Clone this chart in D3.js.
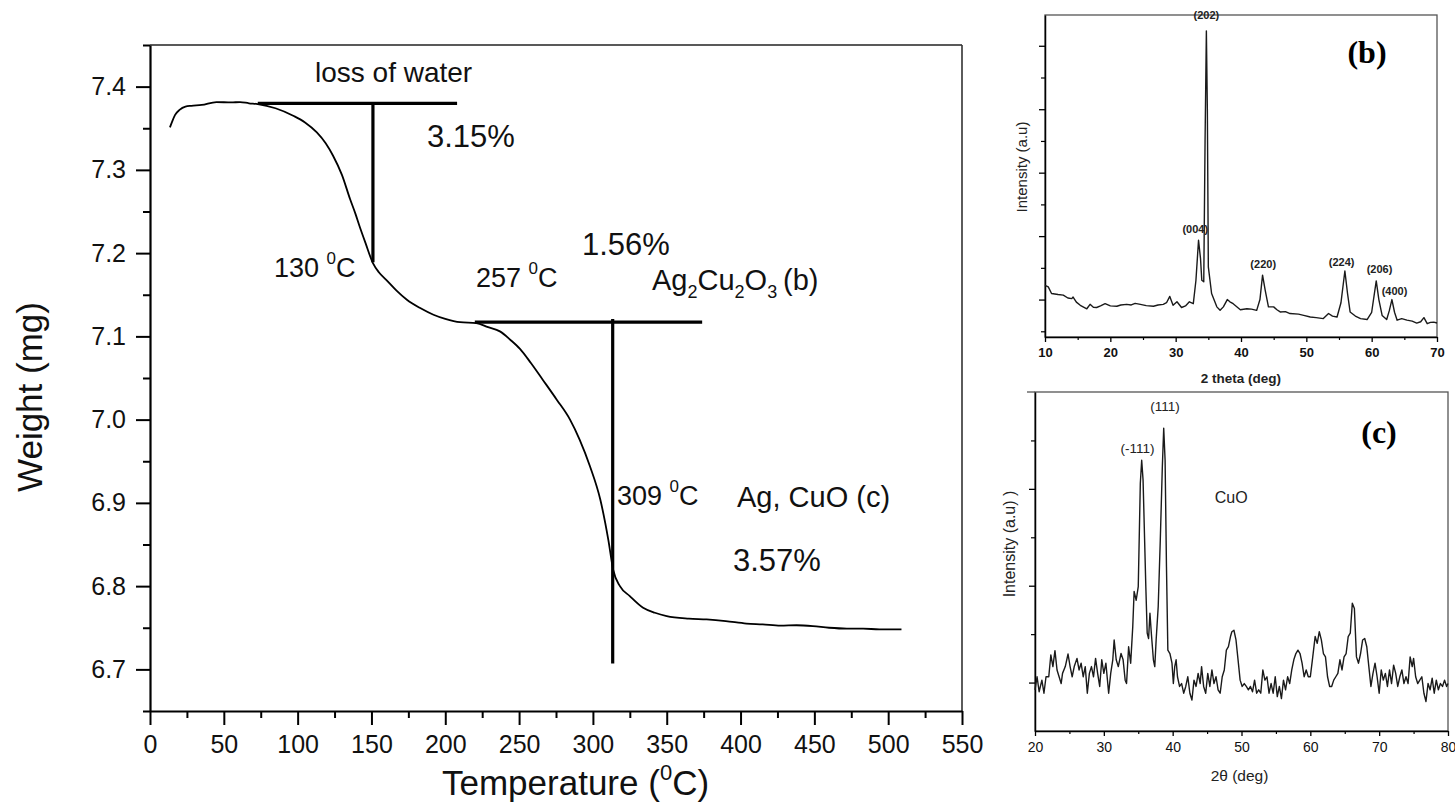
<!DOCTYPE html>
<html>
<head>
<meta charset="utf-8">
<script src="https://cdn.jsdelivr.net/npm/d3@7"></script>
<style>
  body { margin: 0; background: #fff; }
  svg { display: block; font-family: "Liberation Sans", Arial, sans-serif; }
  .axis path, .axis line { stroke: #000; }
  .axis text { fill: #111; }
</style>
</head>
<body>
<div id="chart"></div>
<script>
// ---- TGA curve (temperature degC, weight mg)
var tga = [[13.5,7.351],[15,7.358],[17,7.366],[20,7.372],[24,7.376],[28,7.377],[35,7.378],[45,7.3815],[55,7.381],[61,7.3815],[67,7.380],[73,7.379],[85,7.374],[97,7.365],[105,7.357],[113,7.345],[119,7.332],[124,7.317],[130,7.294],[135.5,7.265],[139,7.248],[142,7.232],[146,7.212],[151,7.188],[155,7.177],[160,7.168],[167,7.155],[174,7.144],[183,7.134],[192,7.126],[200,7.121],[210,7.117],[221,7.116],[229,7.111],[237,7.106],[244,7.096],[250.6,7.085],[258,7.068],[266,7.048],[275.5,7.024],[284.5,7.0],[291,6.976],[298,6.944],[305,6.904],[310.5,6.855],[313.8,6.819],[318.3,6.8],[325,6.788],[334,6.774],[342,6.768],[350,6.764],[365,6.761],[377,6.76],[390,6.758],[404,6.755],[415,6.754],[427,6.7525],[438,6.753],[449,6.752],[460,6.750],[472,6.749],[483,6.749],[494,6.748],[509,6.748]];

// tangent construction lines [T1, w1, T2, w2]
var tgaMarks = [[73,7.38,208,7.38],[151,7.38,151,7.189],[220,7.117,374,7.117],[313.4,7.121,313.4,6.707]];

var tempTicks = [0,50,100,150,200,250,300,350,400,450,500,550];
var tempMinor = [25,75,125,175,225,275,325,375,425,475,525];
var weightTicks = [6.7,6.8,6.9,7.0,7.1,7.2,7.3,7.4];
var weightMinor = [6.65,6.75,6.85,6.95,7.05,7.15,7.25,7.35,7.45];

// ---- XRD (b) Ag2Cu2O3, [2theta, intensity a.u.]
var xrdB = [[10,245],[10.5,240],[11,219],[12,216],[12.8,214],[13.5,205],[14.1,203],[14.3,208],[14.8,192],[15.4,182],[16.4,171],[16.9,185],[17.4,176],[17.9,175],[18.5,180],[19.2,187],[20,180],[21,179],[21.6,183],[22.5,185],[23.2,183],[23.8,188],[24.6,185],[25.5,181],[26.6,179],[27.3,183],[28.1,185],[28.6,190],[29.1,210],[29.6,182],[30.2,193],[30.9,175],[31.5,180],[32.1,193],[32.7,187],[33.1,260],[33.5,387],[33.8,330],[34.0,261],[34.3,256],[34.5,700],[34.7,1047],[34.85,800],[35.0,303],[35.5,219],[36.3,177],[36.8,166],[37.3,177],[37.9,200],[38.3,193],[38.8,187],[39.9,168],[40.9,171],[41.6,170],[42.4,166],[42.9,200],[43.3,277],[43.7,230],[44.2,177],[45.0,177],[45.5,168],[46.0,161],[46.8,162],[47.5,156],[48.8,154],[49.6,150],[50.6,145],[51.5,143],[52.6,140],[53.4,156],[54.0,148],[54.7,145],[55.3,190],[55.9,290],[56.3,220],[56.7,161],[57.5,148],[58.3,140],[59.3,137],[60.0,160],[60.7,259],[61.1,200],[61.6,150],[62.3,137],[62.7,165],[63.1,200],[63.5,160],[63.9,135],[64.6,140],[65.4,135],[66.2,132],[66.9,126],[67.5,130],[68.0,143],[68.5,124],[69.0,128],[69.5,129],[70,126]];
var peaksB = [["(202)",34.7,1085],["(004)",33.0,410],["(220)",43.4,300],["(224)",55.4,305],["(206)",61.2,285],["(400)",63.5,215]];
var bTicks = [10,20,30,40,50,60,70];
var bMinor = [15,25,35,45,55,65];
var bYTicks = [200,400,600,800,1000];
var bYMinor = [100,300,500,700,900];

// ---- XRD (c) CuO
var xrdC = [[20.0,85],[20.3,112],[20.6,81],[21.0,105],[21.3,78],[21.6,112],[22.0,112],[22.3,157],[22.6,133],[22.9,166],[23.2,126],[23.5,112],[23.8,98],[24.0,119],[24.4,133],[24.8,159],[25.1,133],[25.4,112],[25.7,133],[26.1,150],[26.4,126],[26.7,140],[27.0,112],[27.3,133],[27.6,78],[27.9,119],[28.2,133],[28.5,112],[28.8,150],[29.1,119],[29.4,92],[29.7,147],[30.0,119],[30.3,140],[30.7,78],[31.0,119],[31.3,147],[31.5,188],[31.8,147],[32.1,133],[32.5,160],[32.8,147],[33.1,105],[33.3,98],[33.6,174],[33.9,140],[34.2,215],[34.4,288],[34.7,270],[35.0,298],[35.3,511],[35.5,559],[35.7,518],[35.9,408],[36.1,298],[36.3,202],[36.5,191],[36.7,243],[36.9,202],[37.2,147],[37.4,133],[37.6,188],[37.9,257],[38.2,394],[38.5,546],[38.7,625],[38.9,559],[39.1,339],[39.3,167],[39.6,160],[39.9,140],[40.1,98],[40.3,133],[40.5,147],[40.7,112],[41.0,92],[41.3,98],[41.6,78],[41.9,92],[42.2,112],[42.5,78],[42.8,64],[43.1,105],[43.4,92],[43.7,119],[44.0,98],[44.2,133],[44.5,92],[44.8,78],[45.1,119],[45.4,92],[45.7,126],[46.0,98],[46.3,112],[46.6,85],[46.9,78],[47.2,112],[47.5,126],[47.8,167],[48.1,174],[48.4,195],[48.6,205],[48.9,208],[49.2,188],[49.5,147],[49.8,105],[50.1,92],[50.4,98],[50.7,92],[51.0,85],[51.3,92],[51.6,81],[51.9,105],[52.2,78],[52.5,85],[52.8,78],[53.1,126],[53.4,105],[53.7,112],[54.0,78],[54.3,98],[54.6,78],[54.9,112],[55.2,71],[55.5,92],[55.8,67],[56.1,105],[56.4,85],[56.7,112],[57.0,98],[57.3,126],[57.6,147],[57.9,160],[58.2,167],[58.5,160],[58.8,140],[59.1,112],[59.4,126],[59.7,112],[60.0,112],[60.3,147],[60.7,195],[61.0,181],[61.3,205],[61.6,188],[61.9,160],[62.2,153],[62.5,112],[62.8,92],[63.1,92],[63.4,105],[63.7,112],[64.0,119],[64.3,147],[64.6,126],[64.9,153],[65.2,160],[65.5,195],[65.8,202],[66.1,264],[66.4,253],[66.7,153],[67.0,140],[67.3,160],[67.6,188],[67.9,191],[68.2,174],[68.5,133],[68.8,92],[69.1,119],[69.4,140],[69.7,112],[70.0,78],[70.3,126],[70.6,105],[70.9,119],[71.2,92],[71.5,126],[71.8,98],[72.1,136],[72.4,119],[72.7,92],[73.0,112],[73.3,126],[73.6,98],[73.9,112],[74.2,98],[74.5,153],[74.8,133],[75.0,150],[75.3,112],[75.6,98],[75.9,105],[76.2,112],[76.5,78],[76.8,61],[77.1,98],[77.4,85],[77.7,109],[78.0,78],[78.3,105],[78.6,85],[78.9,98],[79.2,92],[79.5,105],[79.8,92],[80.0,98]];
var peaksC = [["(-111)",34.9,575],["(111)",38.9,660],["CuO",48.5,470]];
var cTicks = [20,30,40,50,60,70,80];
var cMinor = [25,35,45,55,65,75];
var cYTicks = [100,300,500];
var cYMinor = [200,400,600];

(function() {
  var svg = d3.select("#chart")
    .append("svg")
    .attr("width", 1455)
    .attr("height", 804);

  // ================= main TGA panel =================
  var width = 812, height = 666;
  var main = svg.append("g").attr("transform", "translate(150,45)");

  var xScale = d3.scaleLinear().domain([0, 550]).range([0, width]);
  var yScale = d3.scaleLinear().domain([6.65, 7.45]).range([height, 0]);

  // frame top / right
  main.append("line")
    .attr("x1", 0).attr("x2", width).attr("y1", 0).attr("y2", 0)
    .attr("stroke", "#222").attr("stroke-width", 1.6);
  main.append("line")
    .attr("x1", width).attr("x2", width).attr("y1", 0).attr("y2", height)
    .attr("stroke", "#333").attr("stroke-width", 1.6);

  var xAxis = d3.axisBottom(xScale).tickValues(tempTicks).tickSize(14).tickPadding(10).tickSizeOuter(0);
  main.append("g").attr("class", "axis").attr("transform", "translate(0," + height + ")")
    .call(xAxis)
    .call(function(g) {
      g.select(".domain").attr("stroke-width", 2.2);
      g.selectAll(".tick line").attr("stroke-width", 2);
      g.selectAll("text").style("font-size", "25px");
    });
  main.append("g").attr("class", "axis").attr("transform", "translate(0," + height + ")")
    .call(d3.axisBottom(xScale).tickValues(tempMinor).tickSize(7).tickFormat("").tickSizeOuter(0))
    .call(function(g) {
      g.select(".domain").remove();
      g.selectAll(".tick line").attr("stroke-width", 2);
    });

  var yAxis = d3.axisLeft(yScale).tickValues(weightTicks).tickSize(14).tickPadding(10).tickSizeOuter(0)
    .tickFormat(d3.format(".1f"));
  main.append("g").attr("class", "axis")
    .call(yAxis)
    .call(function(g) {
      g.select(".domain").attr("stroke-width", 2.2);
      g.selectAll(".tick line").attr("stroke-width", 2);
      g.selectAll("text").style("font-size", "25px");
    });
  main.append("g").attr("class", "axis")
    .call(d3.axisLeft(yScale).tickValues(weightMinor).tickSize(7).tickFormat("").tickSizeOuter(0))
    .call(function(g) {
      g.select(".domain").remove();
      g.selectAll(".tick line").attr("stroke-width", 2);
    });

  var line = d3.line()
    .x(function(d) { return xScale(d[0]); })
    .y(function(d) { return yScale(d[1]); })
    .curve(d3.curveMonotoneX);

  main.append("path")
    .datum(tga)
    .attr("d", line)
    .attr("fill", "none")
    .attr("stroke", "#000")
    .attr("stroke-width", 1.8);

  main.selectAll(".mark")
    .data(tgaMarks)
    .enter().append("line")
    .attr("class", "mark")
    .attr("x1", function(d) { return xScale(d[0]); })
    .attr("y1", function(d) { return yScale(d[1]); })
    .attr("x2", function(d) { return xScale(d[2]); })
    .attr("y2", function(d) { return yScale(d[3]); })
    .attr("stroke", "#000")
    .attr("stroke-width", 3.2);

  // annotations
  function label(x, y, size, parts) {
    var t = svg.append("text").attr("x", x).attr("y", y)
      .style("font-size", size + "px").attr("fill", "#111");
    parts.forEach(function(p) {
      var s = t.append("tspan").text(p[0]);
      if (p[1]) s.attr("dy", p[1]);
      if (p[2]) s.style("font-size", p[2] + "px");
    });
    return t;
  }
  label(315, 82, 28, [["loss of water"]]);
  label(427, 147, 31, [["3.15%"]]);
  label(274, 277, 27, [["130 "], ["0", -13, 17], ["C", 13]]);
  label(476, 287, 27, [["257 "], ["0", -13, 17], ["C", 13]]);
  label(582, 255, 31, [["1.56%"]]);
  label(652, 290, 29, [["Ag"], ["2", 8, 18], ["Cu", -8], ["2", 8, 18], ["O", -8], ["3", 8, 18], ["\u2009(b)", -8]]);
  label(617, 505, 27, [["309 "], ["0", -13, 17], ["C", 13]]);
  label(737, 507, 29, [["Ag, CuO (c)"]]);
  label(733, 571, 31, [["3.57%"]]);

  label(442, 795, 35, [["Temperature ("], ["0", -15, 22], ["C)", 15]]);
  svg.append("text")
    .attr("transform", "translate(42,397) rotate(-90)")
    .attr("text-anchor", "middle")
    .style("font-size", "35px")
    .attr("fill", "#111")
    .text("Weight (mg)");

  // ================= small XRD panel helper =================
  function xrdPanel(opt) {
    var g = svg.append("g").attr("transform", "translate(" + opt.left + "," + opt.top + ")");
    var xs = d3.scaleLinear().domain(opt.xDomain).range([0, opt.w]);
    var ys = d3.scaleLinear().domain(opt.yDomain).range([opt.h, 0]);

    g.append("rect")
      .attr("width", opt.w).attr("height", opt.h)
      .attr("fill", "none").attr("stroke", "#555").attr("stroke-width", 1.3);
    if (opt.topExtend) {
      g.append("line")
        .attr("x1", -opt.topExtend).attr("x2", 0).attr("y1", 0).attr("y2", 0)
        .attr("stroke", "#555").attr("stroke-width", 1.3);
    }

    g.append("g").attr("class", "axis").attr("transform", "translate(0," + opt.h + ")")
      .call(d3.axisBottom(xs).tickValues(opt.xTicks).tickSize(5).tickPadding(6).tickSizeOuter(0))
      .call(function(a) {
        a.select(".domain").attr("stroke-width", 1.5);
        a.selectAll(".tick line").attr("stroke-width", 1.3);
        a.selectAll("text").style("font-size", opt.tickFont + "px").style("font-weight", opt.bold ? "bold" : "normal");
      });
    g.append("g").attr("class", "axis").attr("transform", "translate(0," + opt.h + ")")
      .call(d3.axisBottom(xs).tickValues(opt.xMinor).tickSize(3).tickFormat("").tickSizeOuter(0))
      .call(function(a) { a.select(".domain").remove(); a.selectAll(".tick line").attr("stroke-width", 1.2); });
    g.append("g").attr("class", "axis")
      .call(d3.axisLeft(ys).tickValues(opt.yTicks).tickSize(6).tickFormat("").tickSizeOuter(0))
      .call(function(a) { a.select(".domain").attr("stroke-width", 1.5); a.selectAll(".tick line").attr("stroke-width", 1.3); });
    g.append("g").attr("class", "axis")
      .call(d3.axisLeft(ys).tickValues(opt.yMinor).tickSize(4).tickFormat("").tickSizeOuter(0))
      .call(function(a) { a.select(".domain").remove(); a.selectAll(".tick line").attr("stroke-width", 1.2); });

    g.append("path")
      .datum(opt.data)
      .attr("d", d3.line().x(function(d) { return xs(d[0]); }).y(function(d) { return ys(d[1]); }))
      .attr("fill", "none")
      .attr("stroke", "#1a1a1a")
      .attr("stroke-width", 1.4)
      .attr("stroke-linejoin", "round");

    g.selectAll(".peak")
      .data(opt.peaks)
      .enter().append("text")
      .attr("class", "peak")
      .attr("x", function(d) { return xs(d[1]); })
      .attr("y", function(d) { return ys(d[2]); })
      .attr("text-anchor", "middle")
      .style("font-size", function(d) { return (d[0] === "CuO" ? 16 : opt.peakFont) + "px"; })
      .style("font-weight", opt.bold ? "bold" : "normal")
      .attr("fill", "#222")
      .text(function(d) { return d[0]; });

    g.append("text")
      .attr("x", opt.w / 2 + opt.xTitleDx).attr("y", opt.h + opt.xTitleDy)
      .attr("text-anchor", "middle")
      .style("font-size", opt.titleFont + "px")
      .style("font-weight", opt.bold ? "bold" : "normal")
      .attr("fill", "#222")
      .text(opt.xTitle);
    g.append("text")
      .attr("transform", "translate(" + opt.yTitleX + "," + opt.yTitleY + ") rotate(-90)")
      .attr("text-anchor", "middle")
      .style("font-size", opt.yTitleFont + "px")
      .attr("fill", "#222")
      .text(opt.yTitle);
    g.append("text")
      .attr("x", opt.tagX).attr("y", opt.tagY)
      .attr("text-anchor", "middle")
      .style("font-family", "'Liberation Serif', 'Times New Roman', serif")
      .style("font-weight", "bold")
      .style("font-size", "32px")
      .attr("fill", "#000")
      .text(opt.tag);
  }

  xrdPanel({
    left: 1045, top: 15, w: 392, h: 322,
    xDomain: [10, 70], yDomain: [82, 1097],
    xTicks: bTicks, xMinor: bMinor, yTicks: bYTicks, yMinor: bYMinor,
    data: xrdB, peaks: peaksB, bold: true, tickFont: 13, peakFont: 11,
    xTitle: "2 theta (deg)", titleFont: 13.5, xTitleDx: 0, xTitleDy: 46,
    yTitle: "Intensity (a.u)", yTitleFont: 15, yTitleX: -18, yTitleY: 152,
    tag: "(b)", tagX: 322, tagY: 48
  });

  xrdPanel({
    left: 1035, top: 392, w: 413, h: 339,
    xDomain: [20, 80], yDomain: [0, 700],
    xTicks: cTicks, xMinor: cMinor, yTicks: cYTicks, yMinor: cYMinor,
    data: xrdC, peaks: peaksC, bold: false, tickFont: 14, peakFont: 13.5,
    xTitle: "2\u03b8 (deg)", titleFont: 15.5, xTitleDx: -2, xTitleDy: 50,
    yTitle: "Intensity (a.u) )", yTitleFont: 16, yTitleX: -20, yTitleY: 152,
    tag: "(c)", tagX: 344, tagY: 51, topExtend: 8
  });
})();
</script>
</body>
</html>
